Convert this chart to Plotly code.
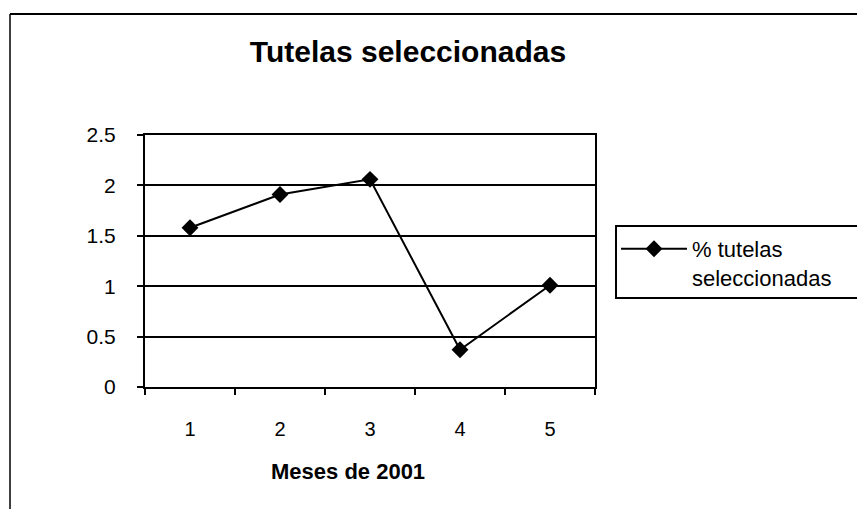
import plotly.graph_objects as go

months = ["1", "2", "3", "4", "5"]
pct_tutelas = [1.58, 1.91, 2.06, 0.37, 1.01]
y_ticks = [0, 0.5, 1, 1.5, 2, 2.5]
y_tick_labels = ["0", "0.5", "1", "1.5", "2", "2.5"]

font_family = "Liberation Sans, Arial, sans-serif"

# the page body adds an 8px offset, so the figure is 8px smaller than the window
W, H = 857, 501
OFF = 8
PL, PR, PT, PB = 145, 595, 135, 387  # plot area in window pixels


def px(x):
    return (x - PL) / (PR - PL)


def py(y):
    return (PB - y) / (PB - PT)


fig = go.Figure()
fig.add_trace(go.Scatter(
    x=months, y=pct_tutelas, mode="lines+markers",
    name="% tutelas<br>seleccionadas",
    line=dict(color="black", width=2),
    marker=dict(symbol="diamond", size=13, color="black"),
))

fig.update_layout(
    width=W, height=H,
    margin=dict(l=PL - OFF, r=W - (PR - OFF), t=PT - OFF, b=H - (PB - OFF)),
    paper_bgcolor="white", plot_bgcolor="white",
    font=dict(family=font_family, size=20, color="black"),
    title=dict(text="<b>Tutelas seleccionadas</b>", x=(408 - OFF) / W, xanchor="center",
               y=1 - (51 - OFF) / H, yanchor="middle", font=dict(size=30, color="black")),
    showlegend=True,
    legend=dict(x=px(616), xanchor="left", y=py(228), yanchor="top",
                borderwidth=0, bgcolor="rgba(0,0,0,0)", valign="top",
                font=dict(size=22, color="black"), itemwidth=66),
    xaxis=dict(type="category", range=[-0.5, 4.5], tickson="boundaries",
               ticks="outside", ticklen=6, tickcolor="black", tickwidth=1.5,
               showline=True, linecolor="black", linewidth=2, mirror=True,
               showgrid=False, zeroline=False,
               ticklabelstandoff=23),
    yaxis=dict(range=[0, 2.5], tickvals=y_ticks, ticktext=y_tick_labels,
               ticks="outside", ticklen=6, tickcolor="black", tickwidth=1.5,
               ticklabelstandoff=17, tickfont=dict(size=21),
               showline=True, linecolor="black", linewidth=2, mirror=True,
               showgrid=True, gridcolor="black", gridwidth=2, zeroline=False),
)

# x-axis title (placed left of centre, as in the original)
fig.add_annotation(text="<b>Meses de 2001</b>", xref="paper", yref="paper",
                   x=px(348), y=py(471), xanchor="center", yanchor="middle",
                   showarrow=False, font=dict(size=22, color="black"))

# legend box
fig.add_shape(type="rect", xref="paper", yref="paper",
              x0=px(616), x1=px(860), y0=py(298), y1=py(226),
              line=dict(color="black", width=2), layer="below")
# outer chart frame
fig.add_shape(type="line", xref="paper", yref="paper",
              x0=px(10), x1=px(870), y0=py(14), y1=py(14),
              line=dict(color="black", width=2))
fig.add_shape(type="line", xref="paper", yref="paper",
              x0=px(10), x1=px(10), y0=py(14), y1=py(515),
              line=dict(color="black", width=1.5))

fig.write_html("out.html")
